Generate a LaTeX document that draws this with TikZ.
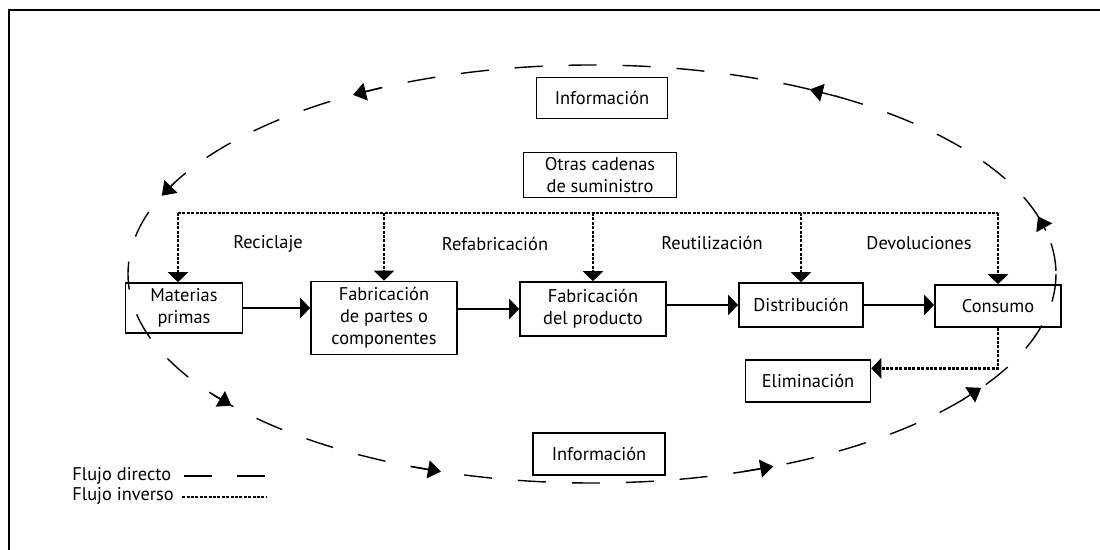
\documentclass[tikz,border=0pt]{standalone}
\usepackage{fontspec}
\setmainfont{PT Sans}
\usepackage{tikz}
\usetikzlibrary{shapes, arrows.meta, calc, positioning}
\newcommand{\cadtextsize}{\fontsize{9.2}{11}\selectfont}

\begin{document}
\begin{tikzpicture}[x=0.5pt,y=-0.5pt,
    caja/.style={draw,line width=0.8pt,align=center,inner sep=0pt,font=\cadtextsize},
    etiq/.style={font=\cadtextsize,inner sep=0pt},
    directo/.style={line width=0.7pt,dash pattern=on 14pt off 13pt},
    inverso/.style={line width=1.2pt,dash pattern=on 1.5pt off 0.7pt},
    punta/.style={-{Triangle[length=5pt,width=10pt]}}]
  \useasboundingbox (0,0) rectangle (1100,550);
  \draw[line width=1pt] (9,550) -- (9,10) -- (1100,10);

  % ciclo de informacion
  \draw[directo] (592,274) ellipse (464 and 209);
  \foreach \a in {239,202,141,109,67,33,344,298}
    \draw[line width=0.7pt,-{Triangle[length=6.5pt,width=9pt]}]
      ({592+464*cos(\a+4)},{274+209*sin(\a+4)}) -- ({592+464*cos(\a)},{274+209*sin(\a)});

  \node[caja,minimum width=65.5pt,minimum height=20.5pt] (info1) at (602,98) {Información};
  \node[caja,minimum width=76.5pt,minimum height=22.5pt] (otras) at (600,175) {Otras cadenas\\de suministro};
  \node[caja,minimum width=58.5pt,minimum height=25pt] (mp) at (184,308) {Materias\\primas};
  \node[caja,minimum width=73pt,minimum height=36.5pt] (fp) at (384,318) {Fabricación\\de partes o\\componentes};
  \node[caja,minimum width=73pt,minimum height=27pt] (fpr) at (593,309) {Fabricación\\del producto};
  \node[caja,minimum width=62pt,minimum height=22pt] (dist) at (801,305) {Distribución};
  \node[caja,minimum width=63pt,minimum height=21pt] (cons) at (998,306) {Consumo};
  \node[caja,minimum width=62.5pt,minimum height=21pt] (elim) at (808,381) {Eliminación};
  \node[caja,minimum width=66pt,minimum height=21pt] (info2) at (599,454) {Información};

  % flujo directo
  \draw[line width=0.7pt,punta] (mp.east) -- (mp.east -| fp.west);
  \draw[line width=0.7pt,punta] (fpr.west -| fp.east) -- (fpr.west);
  \draw[line width=0.7pt,punta] (fpr.east |- dist) -- (dist.west);
  \draw[line width=0.7pt,punta] (dist.east) -- (dist.east -| cons.west);

  % flujo inverso
  \coordinate (lineaI) at (178,213);
  \coordinate (lineaD) at (998,213);
  \draw[inverso] (lineaI) -- (lineaD);
  \draw[inverso,punta] (lineaI) -- (lineaI |- mp.north);
  \foreach \n in {fp,fpr,dist,cons}
    \draw[inverso,punta] (\n.north |- lineaI) -- (\n.north);
  \draw[inverso,punta] (cons.south) |- ($(elim.north east)!0.21!(elim.south east)$);

  \node[etiq] (recic) at (268,244) {Reciclaje};
  \node[etiq] (refab) at (495,244) {Refabricación};
  \node[etiq] (reuti) at (712,243) {Reutilización};
  \node[etiq] (devol) at (919,243) {Devoluciones};

  % leyenda
  \node[etiq,anchor=west] (ldir) at (72,476) {Flujo directo};
  \node[etiq,anchor=west] (linv) at (72,496) {Flujo inverso};
  \coordinate (fdir) at (267,476);
  \coordinate (finv) at (267,497);
  \draw[line width=1.3pt,dash pattern=on 14pt off 12.5pt] ([xshift=6pt]ldir.east) -- (fdir);
  \draw[inverso] ([xshift=4pt]linv.east |- finv) -- (finv);
\end{tikzpicture}
\end{document}
